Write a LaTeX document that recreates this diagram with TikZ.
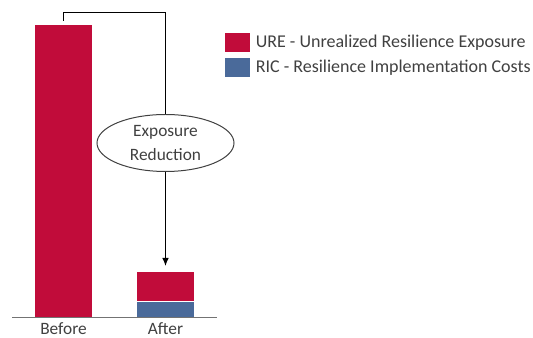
\documentclass[tikz,border=0pt]{standalone}
\usepackage{fontspec}
\setmainfont{Carlito}
\usepackage{xcolor}
\usetikzlibrary{shapes.geometric,arrows.meta}

\definecolor{urered}{RGB}{193,12,58}
\definecolor{ricblue}{RGB}{74,106,154}
\definecolor{txtgray}{RGB}{64,64,64}

\tikzset{
  bar/.style={inner sep=0pt, minimum width=42.75pt},
  key/.style={inner sep=0pt, minimum width=18.75pt, minimum height=14.25pt},
  keytext/.style={anchor=west, inner sep=0pt, text=txtgray, font=\fontsize{13.5}{16}\selectfont},
  barlabel/.style={anchor=base, inner sep=0pt, text=txtgray, font=\fontsize{13}{15}\selectfont}
}

\begin{document}
\begin{tikzpicture}[x=0.75pt,y=0.75pt,yscale=-1,xscale=1]
\useasboundingbox (0,0) rectangle (533,338);

%Bars
\node (before) [bar, fill=urered, minimum height=219pt, anchor=south] at (63.5,317) {};
\node (afterric) [bar, fill=ricblue, minimum height=11.25pt, anchor=south] at (165.5,317) {};
\node (after) [bar, fill=urered, minimum height=21.75pt, anchor=south] at (afterric.north) {};

%Axis
\draw [color=gray!90!black] (12,317) -- (217,317) ;

% Text Node
\node (beforelabel) [barlabel] at (63.5,335) {Before};
\node (afterlabel) [barlabel] at (165.5,335) {After};

%Ellipse
\node (reduction) [ellipse, draw=txtgray, line width=0.75pt, minimum width=102.75pt, minimum height=42.75pt, inner sep=0pt, align=center, text=txtgray, font=\fontsize{13}{18}\selectfont] at (165.5,143) {Exposure\\Reduction};

%Connector
\coordinate (beforetop) at (63.5,21);
\draw [line width=0.75pt] (beforetop) -- ++(0,-8) -| (reduction.north) ;
\draw [line width=0.75pt, -{Latex[length=6pt,width=5pt]}, shorten >=4.5pt] (reduction.south) -- (after.north) ;

%Legend
\node (urekey) [key, fill=urered, anchor=north west] at (225,33) {};
\node (rickey) [key, fill=ricblue, anchor=north west] at (225,58) {};
\node (uretext) [keytext] at ([xshift=3.75pt]urekey.east) {URE - Unrealized Resilience Exposure};
\node (rictext) [keytext] at ([xshift=3.75pt]rickey.east) {RIC - Resilience Implementation Costs};

\end{tikzpicture}
\end{document}
